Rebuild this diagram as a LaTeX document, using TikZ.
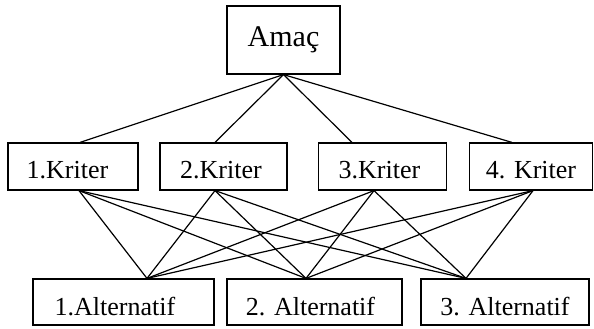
\documentclass[tikz,border=0pt]{standalone}
\usepackage{fontspec}
\setmainfont{Liberation Serif}
\usetikzlibrary{calc}
\begin{document}
\begin{tikzpicture}[x=1pt,y=-1pt,
  box/.style={draw,line width=1.2pt,inner sep=0pt,anchor=center,font=\fontsize{26}{30}\selectfont},
  kbox/.style={box,minimum height=47pt,text height=23pt,text depth=0pt},
  abox/.style={box,minimum height=46pt,text height=26pt,text depth=0pt},
  goalbox/.style={box,font=\fontsize{30}{34}\selectfont,text height=14pt,text depth=0pt},
  lshift/.style={execute at end node={\hspace{#1}}},
  link/.style={line width=1.2pt}]
\useasboundingbox (0,0) rectangle (594,329);
\node[goalbox,minimum width=113pt,minimum height=68pt] (g) at (283.5,40) {Amaç};
\node[kbox,minimum width=130pt,lshift=11pt] (k1) at (73,166.5) {1.Kriter};
\node[kbox,minimum width=127pt,lshift=5pt] (k2) at (223.5,166.5) {2.Kriter};
\node[kbox,minimum width=128pt,lshift=6pt] (k3) at (382.5,166.5) {3.Kriter};
\node[kbox,minimum width=123pt] (k4) at (531,166.5) {4. Kriter};
\node[abox,minimum width=181pt,lshift=17pt] (a1) at (123.5,302) {1.Alternatif};
\node[abox,minimum width=175pt,lshift=8pt] (a2) at (314.5,302) {2. Alternatif};
\node[abox,minimum width=168pt] (a3) at (505,302) {3. Alternatif};
\coordinate (k1t) at ($(k1.north)+(7,0)$);
\coordinate (k2t) at ($(k2.north)+(-8.5,0)$);
\coordinate (k3t) at ($(k3.north)+(-30.5,0)$);
\coordinate (k4t) at ($(k4.north)+(-19,0)$);
\coordinate (k1b) at ($(k1.south)+(6,0)$);
\coordinate (k2b) at ($(k2.south)+(-8.5,0)$);
\coordinate (k3b) at ($(k3.south)+(-8.5,0)$);
\coordinate (k4b) at ($(k4.south)+(2,0)$);
\coordinate (a1t) at ($(a1.north)+(23.5,0)$);
\coordinate (a2t) at ($(a2.north)+(-8.5,0)$);
\coordinate (a3t) at ($(a3.north)+(-39,0)$);
\foreach \k in {k1t,k2t,k3t,k4t}{\draw[link] (g.south) -- (\k);}
\foreach \k in {k1b,k2b,k3b,k4b}{
  \foreach \a in {a1t,a2t,a3t}{\draw[link] (\k) -- (\a);}}
\end{tikzpicture}
\end{document}
